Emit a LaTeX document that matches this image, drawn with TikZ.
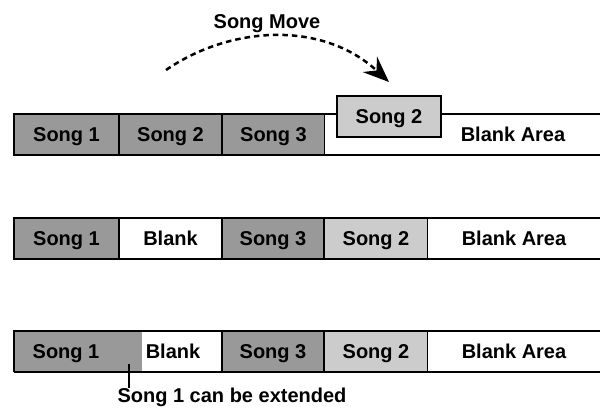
\documentclass[tikz,border=0pt]{standalone}
\usepackage{fontspec}
\setmainfont{Liberation Sans}
\definecolor{songdark}{RGB}{153,153,153}
\definecolor{songlight}{RGB}{204,204,204}
\usetikzlibrary{positioning,arrows.meta}

\begin{document}
\begin{tikzpicture}[
  x=1pt,y=-1pt,
  every node/.style={font=\bfseries\fontsize{20}{24}\selectfont,text height=14.5pt,text depth=0pt,inner sep=0pt,outer sep=0pt},
  cell/.style={minimum height=41pt,line width=1.8pt},
  songcell/.style={cell,draw,fill=songdark},
  movedcell/.style={cell,draw,fill=songlight},
  blankcell/.style={cell,draw,fill=white},
  edge/.style={line width=1.8pt},
  move/.style={line width=2.5pt,dash pattern=on 5.5pt off 4pt,-{Stealth[length=26pt,width=21pt,inset=9pt]}}
]
  \useasboundingbox (0,0) rectangle (600,408);

  % before the move
  \node[songcell,minimum width=105pt,anchor=north west] (r1s1) at (14,114) {Song 1};
  \node[songcell,minimum width=103pt,right=0pt of r1s1] (r1s2) {Song 2};
  \node[songcell,minimum width=103pt,right=0pt of r1s2] (r1s3) {Song 3};
  \node[cell,fill=white,minimum width=275pt,right=0pt of r1s3] (r1area) {};
  \draw[edge] (r1area.north west) -- (r1area.north east) (r1area.south west) -- (r1area.south east);
  \node (r1label) at (513,134.5) {Blank Area};
  \node[movedcell,minimum width=104pt,anchor=north west] (r1moved) at (337,96) {Song 2};

  \node (movelabel) at (267,21) {Song Move};
  \coordinate (movefrom) at (166,70);
  \coordinate (moveto) at (389,82);
  \draw[move] (movefrom) .. controls (230,26) and (322,20) .. (moveto);

  % after the move
  \node[songcell,minimum width=105pt,anchor=north west] (r2s1) at (14,218) {Song 1};
  \node[blankcell,minimum width=103pt,right=0pt of r2s1] (r2blank) {Blank};
  \node[songcell,minimum width=102pt,right=0pt of r2blank] (r2s3) {Song 3};
  \node[movedcell,minimum width=104pt,right=0pt of r2s3] (r2s2) {Song 2};
  \node[cell,fill=white,minimum width=172pt,right=0pt of r2s2] (r2area) {Blank Area};
  \draw[edge] (r2area.north west) -- (r2area.north east) (r2area.south west) -- (r2area.south east);

  % song 1 extended
  \node[cell,fill=songdark,minimum width=128pt,anchor=north west] (r3s1) at (14,331) {};
  \node[cell,fill=white,minimum width=80pt,right=0pt of r3s1] (r3blank) {};
  \node[songcell,minimum width=102pt,right=0pt of r3blank] (r3s3) {Song 3};
  \node[movedcell,minimum width=104pt,right=0pt of r3s3] (r3s2) {Song 2};
  \node[cell,fill=white,minimum width=172pt,right=0pt of r3s2] (r3area) {Blank Area};
  \draw[edge] (r3s1.south west) -- (r3s1.north west) -- (r3area.north east)
    (r3s1.south west) -- (r3area.south east);
  \node (r3s1label) at (66,351.5) {Song 1};
  \node (r3blanklabel) at (173,351.5) {Blank};

  \node (note) at (232,394.75) {Song 1 can be extended};
  \coordinate (tick) at (129,364);
  \draw[edge] (tick) -- (tick |- note.north);
\end{tikzpicture}
\end{document}
